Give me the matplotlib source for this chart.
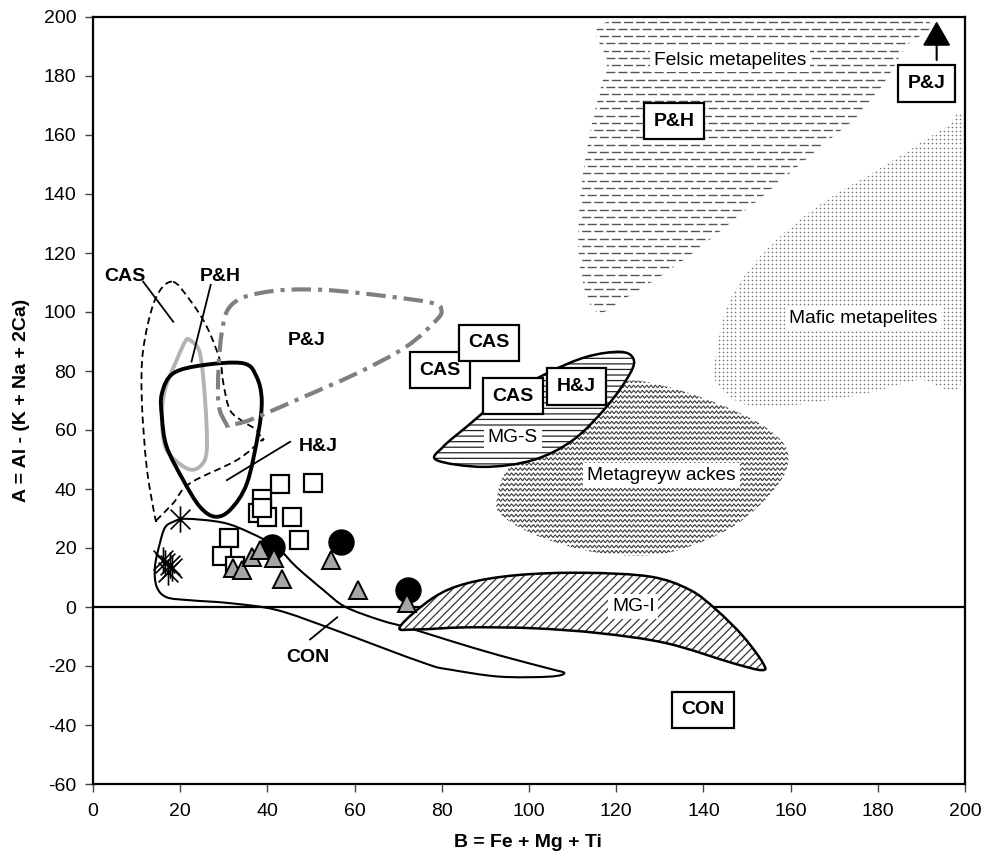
import numpy as np
import matplotlib
matplotlib.use("Agg")
import matplotlib.pyplot as plt
from matplotlib.path import Path
from matplotlib.patches import PathPatch, FancyArrowPatch

plt.rcParams['font.family'] = ['Liberation Sans', 'DejaVu Sans']
plt.rcParams['lines.scale_dashes'] = False
plt.rcParams['hatch.linewidth'] = 0.9
plt.rcParams['axes.unicode_minus'] = False

# ---------------- sample points ----------------
sq_x = [42.9, 50.5, 38.7, 37.9, 39.8, 38.7, 45.6, 47.3, 31.3, 29.5, 32.5]
sq_y = [41.7, 42.1, 36.5, 32.0, 30.6, 33.6, 30.6, 22.7, 23.3, 17.3, 13.9]

tri_x = [32.2, 34.1, 36.4, 38.3, 41.5, 43.3, 54.7, 60.8, 72.1]
tri_y = [13.1, 12.5, 17.1, 19.3, 16.5, 9.4, 15.9, 5.8, 1.4]

dot_x = [41.0, 56.8, 72.3]
dot_y = [20.4, 22.1, 5.8]

star_x = [20.0, 16.5, 18.1, 17.3, 16.1, 17.7]
star_y = [29.7, 14.9, 13.1, 12.0, 15.9, 14.2]

# ---------------- field outlines ----------------
con_x = [18.3, 21.3, 29.8, 36.0, 42.1, 46.7, 52.8, 57.8, 65.8, 72.7, 81.8, 93.2, 104.7, 108.1,
         104.7, 93.2, 81.8, 77.3, 65.8, 54.4, 42.1, 31.4, 22.2, 16.9, 14.6, 14.2, 15.3, 16.5]
con_y = [28.8, 29.9, 28.6, 25.2, 20.3, 13.5, 5.8, 0.1, -4.4, -7.2, -11.4, -16.4, -20.9, -22.4,
         -23.6, -23.6, -21.2, -19.7, -13.5, -7.2, -1.0, 1.3, 2.3, 3.3, 6.9, 13.5, 21.4, 26.9]

mgi_x = [70.4, 78.0, 85.7, 97.2, 112.4, 127.8, 136.9, 143.0, 149.2, 153.7, 153.4, 146.9, 131.6, 116.3, 100.9, 85.7, 74.2]
mgi_y = [-6.7, 3.1, 8.0, 10.8, 11.6, 10.3, 5.8, -1.0, -10.1, -19.1, -21.4, -19.1, -12.3, -8.9, -7.2, -6.9, -7.6]

mgs_x = [78.8, 89.5, 100.9, 110.1, 117.8, 123.2, 123.9, 120.9, 113.2, 104.1, 93.3, 85.7, 80.3]
mgs_y = [49.8, 47.5, 49.8, 56.6, 67.9, 79.2, 84.3, 86.5, 84.8, 79.2, 70.2, 61.1, 54.3]

grey_x = [92.6, 95.6, 107.0, 120.1, 131.6, 146.8, 156.1, 159.5, 156.8, 146.8, 131.6, 116.3, 102.5, 94.1]
grey_y = [36.3, 47.6, 62.0, 75.8, 74.7, 66.8, 58.9, 51.0, 40.8, 27.3, 18.3, 18.3, 23.8, 30.6]

fel_x = [121.3, 187.8, 185.8, 177.4, 166.0, 150.7, 135.4, 123.9, 115.5, 111.7, 111.7, 114.0, 117.8]
fel_y = [199.5, 199.5, 188.8, 169.6, 154.9, 135.7, 117.6, 106.3, 100.1, 115.4, 138.0, 160.7, 183.2]

maf_x = [200.0, 195.8, 181.2, 166.0, 153.7, 146.1, 143.1, 143.1, 152.2, 173.6, 188.9, 200.0]
maf_y = [165.0, 162.8, 149.3, 135.7, 119.9, 104.1, 87.1, 75.8, 67.9, 71.3, 76.9, 80.3]

# literature fields: P&H (light grey), thick black, CAS dashed, P&J dash-dot
ph_x = [22.2, 24.5, 25.7, 26.1, 24.5, 21.5, 16.9, 15.8, 16.5, 19.2, 21.1]
ph_y = [90.5, 86.1, 70.2, 53.2, 47.6, 47.0, 53.2, 63.4, 73.6, 83.7, 89.9]

blk_x = [15.8, 18.4, 25.3, 34.5, 37.5, 38.7, 37.9, 35.3, 31.5, 28.0, 24.5, 20.7, 16.9, 15.8]
blk_y = [72.4, 79.2, 82.0, 82.6, 78.1, 70.2, 58.9, 41.9, 33.0, 30.6, 34.0, 43.0, 54.3, 64.5]

cas_x = [18.1, 14.2, 11.5, 11.2, 12.3, 14.2, 14.6, 14.6, 18.4, 22.2, 33.0, 38.7, 38.7, 37.5,
         34.5, 31.4, 29.9, 29.1, 26.1, 22.2]
cas_y = [110.3, 104.1, 87.1, 70.2, 47.6, 30.6, 29.5, 29.5, 35.2, 41.9, 49.8, 56.6, 56.6, 60.0,
         62.8, 66.8, 75.8, 83.7, 95.0, 104.1]

pj_x = [30.7, 28.7, 29.5, 32.2, 40.6, 52.8, 68.1, 78.0, 79.9, 78.8, 71.9, 60.5, 46.7, 36.0, 31.4]
pj_y = [61.7, 70.2, 92.8, 103.0, 107.0, 107.5, 105.2, 103.0, 100.7, 97.3, 88.3, 79.2, 70.2, 63.4, 61.7]

# labels
box_labels = ['CAS', 'CAS', 'CAS', 'H&J', 'P&H', 'P&J', 'CON']
box_x = [79.6, 90.8, 96.3, 110.9, 133.3, 191.2, 139.9]
box_y = [80.3, 89.5, 71.5, 74.7, 164.7, 177.4, -34.9]

ptr_labels = ['CAS', 'P&H', 'P&J', 'H&J', 'CON']
ptr_x = [7.3, 29.3, 49.0, 51.7, 49.3]
ptr_y = [112.2, 112.2, 90.5, 54.3, -17.1]
ptr_lines = [((11.5, 110.3), (18.4, 96.7)),
             ((27.0, 109.2), (22.6, 83.2)),
             ((45.2, 56.0), (30.7, 43.0)),
             ((49.8, -11.0), (56.0, -3.5))]

field_labels = ['Felsic metapelites', 'Mafic metapelites', 'Metagreyw ackes', 'MG-S', 'MG-I']
field_x = [146.1, 176.7, 130.4, 96.3, 123.9]
field_y = [185.4, 97.9, 44.7, 57.3, 0.1]


def smooth(xs, ys, closed=True):
    p = np.column_stack([xs, ys]).astype(float)
    n = len(p)
    verts = [p[0]]
    codes = [Path.MOVETO]
    for i in range(n if closed else n - 1):
        p0 = p[(i - 1) % n] if (closed or i > 0) else p[i]
        p1 = p[i]
        p2 = p[(i + 1) % n]
        p3 = p[(i + 2) % n] if (closed or i + 2 < n) else p[i + 1]
        verts += [p1 + (p2 - p0) / 6.0, p2 - (p3 - p1) / 6.0, p2]
        codes += [Path.CURVE4] * 3
    return Path(verts, codes)


fig = plt.figure(figsize=(9.81, 8.63), dpi=100)
ax = fig.add_axes([93 / 981, 1 - 784 / 863, 872 / 981, 767 / 863])
ax.set_xlim(0, 200)
ax.set_ylim(-60, 200)

# ---- textured fields (no outline) ----
fel_patch = PathPatch(smooth(fel_x, fel_y), fc='none', ec='none', transform=ax.transData)
ax.add_patch(fel_patch)
for k, yy in enumerate(np.arange(198.4, 96, -2.45)):
    ln, = ax.plot([105, 195], [yy, yy], color='#555555', lw=1.0, zorder=1,
                  linestyle=(4.0 * (k % 2), (6.5, 2.2)), dash_capstyle='butt')
    ln.set_clip_path(fel_patch)

maf_patch = PathPatch(smooth(maf_x, maf_y), fc='none', ec='none', transform=ax.transData)
ax.add_patch(maf_patch)
gx, gy = np.meshgrid(np.arange(140, 200.5, 0.92), np.arange(66, 167, 1.36))
sc = ax.scatter(gx.ravel(), gy.ravel(), s=1.4, color='#777777', linewidths=0, zorder=1)
sc.set_clip_path(maf_patch)

grey_patch = PathPatch(smooth(grey_x, grey_y), fc='none', ec='none', transform=ax.transData)
ax.add_patch(grey_patch)
zx = np.arange(88, 164, 0.5)
zz = np.where(np.arange(len(zx)) % 2 == 0, 0.45, -0.45)
for yy in np.arange(17, 78, 1.75):
    ln, = ax.plot(zx, yy + zz, color='#3a3a3a', lw=0.8, zorder=1)
    ln.set_clip_path(grey_patch)

# ---- zero line ----
ax.axhline(0, color='black', lw=1.6, zorder=2)

# ---- CON field ----
ax.add_patch(PathPatch(smooth(con_x, con_y), fc='none', ec='black', lw=1.5, zorder=3))

# ---- MG-S and MG-I hatched fields ----
ax.add_patch(PathPatch(smooth(mgs_x, mgs_y), fc='white', ec='#222222', lw=0, hatch='---', zorder=3))
ax.add_patch(PathPatch(smooth(mgs_x, mgs_y), fc='none', ec='black', lw=1.8, zorder=3.1))
ax.add_patch(PathPatch(smooth(mgi_x, mgi_y), fc='white', ec='#333333', lw=0, hatch='////', zorder=3))
ax.add_patch(PathPatch(smooth(mgi_x, mgi_y), fc='none', ec='black', lw=1.8, zorder=3.1))

# ---- other literature fields ----
ax.add_patch(PathPatch(smooth(cas_x, cas_y), fc='none', ec='black', lw=1.3,
                       linestyle=(0, (5, 3)), zorder=4))
ax.add_patch(PathPatch(smooth(ph_x, ph_y), fc='none', ec='#b3b3b3', lw=2.8, zorder=4))
ax.add_patch(PathPatch(smooth(blk_x, blk_y), fc='none', ec='black', lw=2.8, zorder=4))
ax.add_patch(PathPatch(smooth(pj_x, pj_y), fc='none', ec='#808080', lw=3.0,
                       linestyle=(0, (14, 5, 3, 5)), zorder=4))

# ---- pointer lines and labels ----
for (a, b) in ptr_lines:
    ax.plot([a[0], b[0]], [a[1], b[1]], color='black', lw=1.3, zorder=5)
for t, x, y in zip(ptr_labels, ptr_x, ptr_y):
    ax.text(x, y, t, ha='center', va='center', fontsize=14, fontweight='bold', zorder=6)

for t, x, y in zip(field_labels, field_x, field_y):
    ax.text(x, y, t, ha='center', va='center', fontsize=13.8, zorder=6,
            bbox=dict(boxstyle='square,pad=0.2', fc='white', ec='none'))

# ---- data markers ----
star = Path([(0, -1), (0, 1), (-0.75, -0.75), (0.75, 0.75), (-0.75, 0.75), (0.75, -0.75)],
            [Path.MOVETO, Path.LINETO] * 3)
ax.plot(star_x, star_y, ls='none', marker=star, ms=19, mec='black', mew=1.2, zorder=7)
ax.plot(sq_x, sq_y, ls='none', marker='s', ms=13, mfc='white', mec='black', mew=1.6, zorder=7)
ax.plot(dot_x, dot_y, ls='none', marker='o', ms=18, mfc='black', mec='black', zorder=7)
ax.plot(tri_x, tri_y, ls='none', marker='^', ms=13, mfc='#a6a6a6', mec='black', mew=1.4, zorder=8)

# ---- boxed labels ----
for t, x, y in zip(box_labels, box_x, box_y):
    ax.text(x, y, t, ha='center', va='center', fontsize=14, fontweight='bold', zorder=9,
            bbox=dict(boxstyle='square,pad=0.5', fc='white', ec='black', lw=1.6))

ax.add_patch(FancyArrowPatch((193.5, 184.5), (193.5, 199.5), arrowstyle='-|>,head_length=7,head_width=4',
                             mutation_scale=2.2, color='black', lw=1.5, zorder=9))

# ---- axes styling ----
ax.set_xticks(np.arange(0, 201, 20))
ax.set_yticks(np.arange(-60, 201, 20))
ax.tick_params(direction='out', length=6, width=1, labelsize=14, color='#444444')
ax.tick_params(axis='x', pad=8)
ax.tick_params(axis='y', pad=6)
for s in ax.spines.values():
    s.set_linewidth(1.6)
    s.set_color('black')

fig.text(528 / 981, 1 - 842 / 863, 'B = Fe + Mg + Ti', ha='center', va='center',
         fontsize=14, fontweight='bold')
fig.text(22 / 981, 1 - 400 / 863, 'A = Al - (K + Na + 2Ca)', ha='center', va='center',
         rotation=90, fontsize=14, fontweight='bold')

fig.savefig('out.png', dpi=100)
